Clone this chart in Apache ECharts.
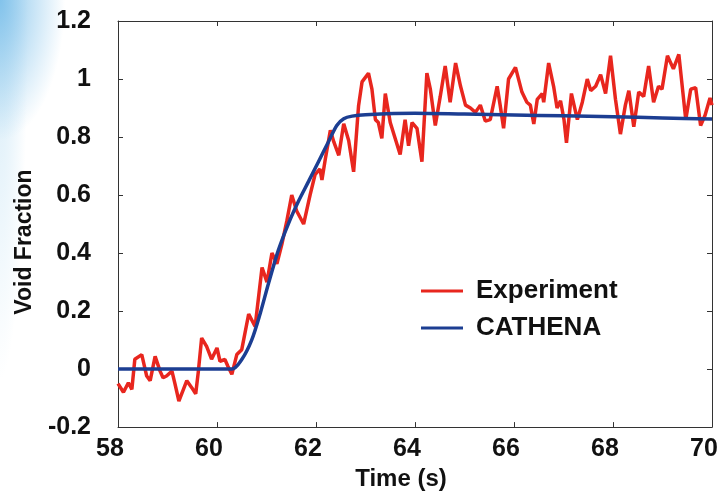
<!DOCTYPE html>
<html>
<head>
<meta charset="utf-8">
<script src="https://cdn.jsdelivr.net/npm/echarts@6/dist/echarts.min.js"></script>
<style>
    html, body { margin: 0; padding: 0; }
    body {
        width: 723px; height: 496px;
        background:
            radial-gradient(ellipse 65px 140px at 0 0, rgba(110,185,232,0.8), rgba(255,255,255,0)),
            radial-gradient(ellipse 28px 380px at 0 0, rgba(170,215,240,0.5), rgba(255,255,255,0)),
            #fff;
    }
    #chart { width: 723px; height: 496px; }
</style>
</head>
<body>
<div id="chart"></div>
<script>
// axis ticks
const xTicks = [58, 60, 62, 64, 66, 68, 70];
const yTicks = [-0.2, 0, 0.2, 0.4, 0.6, 0.8, 1, 1.2];

// Experiment: time (s)
const expTime = [
    58.0, 58.11, 58.21, 58.28, 58.34, 58.48, 58.58, 58.65, 58.75, 58.85,
    58.91, 58.98, 59.09, 59.15, 59.23, 59.31, 59.39, 59.49, 59.57, 59.62,
    59.69, 59.79, 59.89, 60.0, 60.06, 60.16, 60.22, 60.30, 60.40, 60.50,
    60.64, 60.77, 60.91, 61.01, 61.11, 61.21, 61.31, 61.41, 61.51, 61.61,
    61.75, 61.88, 61.98, 62.08, 62.12, 62.19, 62.29, 62.36, 62.46, 62.56,
    62.66, 62.76, 62.86, 62.93, 63.06, 63.13, 63.20, 63.26, 63.33, 63.40,
    63.50, 63.60, 63.70, 63.80, 63.87, 63.94, 64.04, 64.14, 64.24, 64.31,
    64.41, 64.51, 64.61, 64.71, 64.82, 64.92, 65.02, 65.12, 65.22, 65.32,
    65.42, 65.52, 65.66, 65.72, 65.79, 65.89, 66.03, 66.16, 66.26, 66.33,
    66.40, 66.47, 66.57, 66.60, 66.70, 66.80, 66.87, 66.94, 67.01, 67.06,
    67.16, 67.28, 67.38, 67.48, 67.55, 67.65, 67.75, 67.85, 67.95, 68.05,
    68.15, 68.25, 68.32, 68.42, 68.52, 68.62, 68.72, 68.82, 68.92, 68.99,
    69.10, 69.22, 69.33, 69.47, 69.57, 69.67, 69.77, 69.86, 69.96, 70.0
];
// Experiment: void fraction
const expVoid = [
    -0.05, -0.08, -0.047, -0.07, 0.034, 0.05, -0.024, -0.04, 0.044, -0.007,
    -0.03, -0.024, -0.007, -0.05, -0.11, -0.075, -0.04, -0.064, -0.085, -0.013,
    0.107, 0.078, 0.034, 0.073, 0.027, 0.033, 0.01, -0.018, 0.05, 0.067,
    0.19, 0.147, 0.35, 0.30, 0.40, 0.363, 0.43, 0.51, 0.60, 0.545,
    0.50, 0.60, 0.67, 0.69, 0.652, 0.726, 0.823, 0.783, 0.737, 0.846,
    0.788, 0.68, 0.908, 0.99, 1.02, 0.965, 0.86, 0.85, 0.795, 0.95,
    0.85, 0.795, 0.74, 0.86, 0.77, 0.85, 0.83, 0.715, 1.02, 0.965,
    0.84, 0.94, 1.045, 0.92, 1.055, 0.975, 0.91, 0.90, 0.885, 0.91,
    0.855, 0.86, 0.975, 0.91, 0.83, 1.0, 1.04, 0.955, 0.92, 0.91,
    0.845, 0.93, 0.95, 0.92, 1.055, 0.975, 0.90, 0.925, 0.86, 0.78,
    0.95, 0.86, 0.92, 1.0, 0.96, 0.975, 1.015, 0.95, 1.08, 0.93,
    0.81, 0.91, 0.96, 0.835, 0.955, 0.94, 1.045, 0.92, 0.975, 0.965,
    1.08, 1.035, 1.085, 0.86, 0.965, 0.97, 0.84, 0.875, 0.935, 0.91
];

// CATHENA prediction
const cathTime = [58.0, 60.30, 60.50, 60.70, 60.87, 61.04, 61.24, 61.44, 61.65, 61.85,
    62.05, 62.25, 62.42, 62.56, 62.73, 63.0, 64.0, 65.0, 66.0, 67.0, 68.0, 69.0, 70.0];
const cathVoid = [0, 0, 0.033, 0.10, 0.19, 0.295, 0.41, 0.50, 0.58, 0.647,
    0.715, 0.783, 0.84, 0.863, 0.872, 0.877, 0.882, 0.879, 0.876, 0.873, 0.870, 0.866, 0.862];

const font = '"Liberation Sans", Arial, sans-serif';
const axisColor = '#333';
const textColor = '#111';

function pairs(xs, ys) {
    let out = [];
    for (let i = 0; i < xs.length; i++) out.push([xs[i], ys[i]]);
    return out;
}

let chart = echarts.init(document.getElementById('chart'), null, { renderer: 'canvas' });

const baseAxis = {
    axisLine: { show: true, onZero: false, lineStyle: { color: axisColor, width: 1 } },
    axisTick: { show: true, inside: true, length: 5, lineStyle: { color: axisColor } },
    splitLine: { show: false }
};

let option = {
    backgroundColor: 'transparent',
    animation: false,
    textStyle: { fontFamily: font },
    grid: { left: 118, right: 11, top: 21, bottom: 64 },
    legend: {
        orient: 'vertical',
        left: 421,
        top: 278,
        padding: 0,
        itemWidth: 42,
        itemHeight: 3,
        itemGap: 11,
        icon: 'rect',
        textStyle: { fontFamily: font, fontSize: 26, fontWeight: 'bold', color: textColor, lineHeight: 26, padding: [0, 0, 0, 8] },
        data: ['Experiment', 'CATHENA']
    },
    xAxis: [
        Object.assign({}, baseAxis, {
            type: 'value', min: xTicks[0], max: xTicks[xTicks.length - 1], interval: 2,
            name: 'Time (s)', nameLocation: 'middle', nameGap: 38,
            nameTextStyle: { fontFamily: font, fontSize: 24, fontWeight: 'bold', color: textColor, padding: [0, 28, 0, 0] },
            axisLabel: { fontFamily: font, fontSize: 25, fontWeight: 'bold', color: textColor, margin: 10, padding: [0, 16, 0, 0] }
        }),
        Object.assign({}, baseAxis, {
            type: 'value', position: 'top', min: xTicks[0], max: xTicks[xTicks.length - 1], interval: 2,
            axisLabel: { show: false }
        })
    ],
    yAxis: [
        Object.assign({}, baseAxis, {
            type: 'value', min: yTicks[0], max: yTicks[yTicks.length - 1], interval: 0.2,
            name: 'Void Fraction', nameLocation: 'middle', nameGap: 82,
            nameTextStyle: { fontFamily: font, fontSize: 23, fontWeight: 'bold', color: textColor, padding: [0, 36, 0, 0] },
            axisLabel: {
                fontFamily: font, fontSize: 25, fontWeight: 'bold', color: textColor, margin: 27,
                formatter: v => String(+v.toFixed(1))
            }
        }),
        Object.assign({}, baseAxis, {
            type: 'value', position: 'right', min: yTicks[0], max: yTicks[yTicks.length - 1], interval: 0.2,
            axisLabel: { show: false }
        })
    ],
    series: [
        {
            name: 'Experiment',
            type: 'line',
            symbol: 'none',
            color: '#e8261e',
            lineStyle: { width: 3.5, color: '#e8261e' },
            data: pairs(expTime, expVoid),
            z: 2
        },
        {
            name: 'CATHENA',
            type: 'line',
            symbol: 'none',
            smooth: 0.3,
            color: '#1c3e92',
            lineStyle: { width: 3.5, color: '#1c3e92' },
            data: pairs(cathTime, cathVoid),
            z: 3
        }
    ]
};

chart.setOption(option);
</script>
</body>
</html>
